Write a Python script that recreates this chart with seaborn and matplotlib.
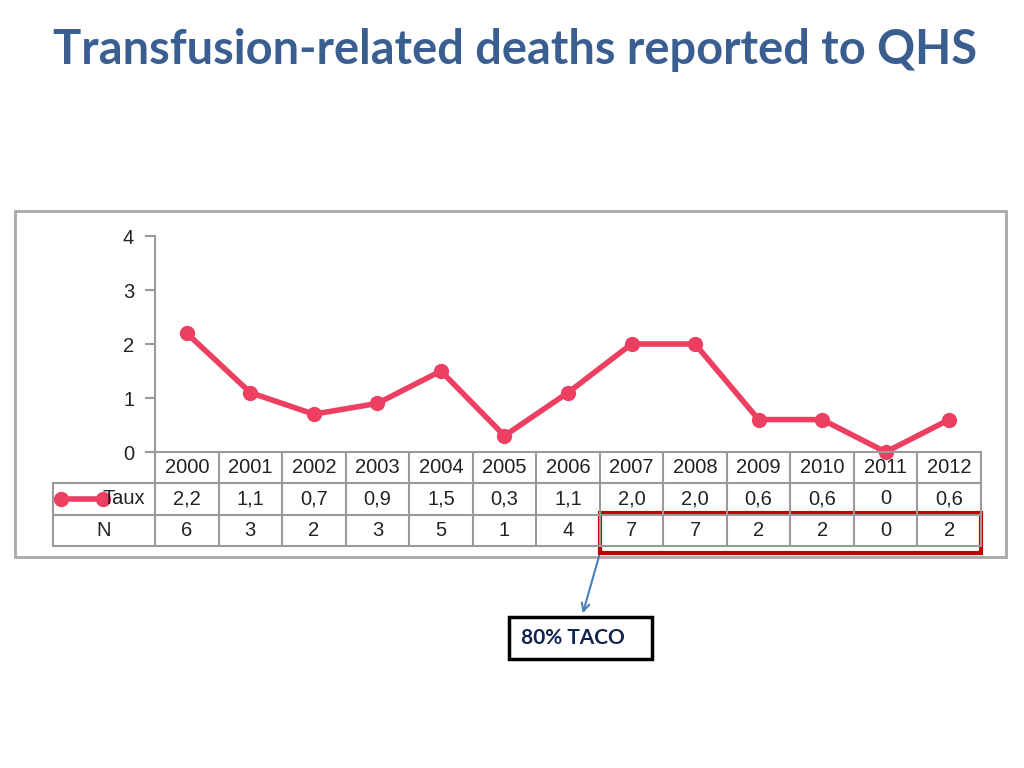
import matplotlib
matplotlib.use("Agg")
import matplotlib.pyplot as plt
import matplotlib.patches as patches
import pandas as pd
import seaborn as sns

# data
years = ['2000', '2001', '2002', '2003', '2004', '2005', '2006',
         '2007', '2008', '2009', '2010', '2011', '2012']
taux = [2.2, 1.1, 0.7, 0.9, 1.5, 0.3, 1.1, 2.0, 2.0, 0.6, 0.6, 0, 0.6]
taux_labels = ['2,2', '1,1', '0,7', '0,9', '1,5', '0,3', '1,1',
               '2,0', '2,0', '0,6', '0,6', '0', '0,6']
n_deaths = [6, 3, 2, 3, 5, 1, 4, 7, 7, 2, 2, 0, 2]
y_ticks = [0, 1, 2, 3, 4]

W, H = 1024, 768
LINE = '#EC3F62'
GRID = '#9A9A9A'
TXT = '#222222'
FS = 14.5

sns.set_style('white')
plt.rcParams['font.family'] = ['Liberation Sans', 'DejaVu Sans']

fig = plt.figure(figsize=(W / 100, H / 100), dpi=100)


def px(x0, y0, x1, y1):
    return [x0 / W, 1 - y1 / H, (x1 - x0) / W, (y1 - y0) / H]


# title
fig.text(515 / W, 1 - 50 / H, 'Transfusion-related deaths reported to QHS',
         ha='center', va='center', fontsize=33.8, fontweight='bold',
         color='#3B5E91', family='Lato')

# outer grey frame
fig.add_artist(patches.Rectangle((15 / W, 1 - 557 / H), 991 / W, 346 / H,
                                 transform=fig.transFigure, fill=False,
                                 edgecolor='#A8A8A8', lw=2))

# line chart
df = pd.DataFrame({'i': range(len(years)), 'taux': taux})
ax = fig.add_axes(px(155, 236, 981, 452))
sns.lineplot(data=df, x='i', y='taux', ax=ax, color=LINE, lw=4,
             marker='o', markersize=11, markeredgewidth=0, clip_on=False)
ax.set_xlim(-0.5, len(years) - 0.5)
ax.set_ylim(0, 4)
ax.set_yticks(y_ticks)
ax.set_yticklabels([str(t) for t in y_ticks], fontsize=FS, color=TXT)
ax.set_xticks([])
ax.set_xlabel('')
ax.set_ylabel('')
for s in ['top', 'right', 'bottom']:
    ax.spines[s].set_visible(False)
ax.spines['left'].set_color(GRID)
ax.spines['left'].set_linewidth(1.5)
ax.tick_params(axis='y', left=True, length=7, width=1.5, color=GRID, pad=8)
ax.patch.set_alpha(0)

# data table under the chart
col_w = (981 - 155) / len(years)
left = -0.5 - (155 - 53) / col_w
tb = fig.add_axes(px(53, 452, 981, 546))
tb.set_xlim(left, len(years) - 0.5)
tb.set_ylim(3, 0)
tb.axis('off')
kw = dict(color=GRID, lw=1.5, clip_on=False)
tb.plot([-0.5, len(years) - 0.5], [0, 0], **kw)
for r in [1, 2, 3]:
    tb.plot([left, len(years) - 0.5], [r, r], **kw)
for i in range(len(years) + 1):
    tb.plot([i - 0.5, i - 0.5], [0, 3], **kw)
tb.plot([left, left], [1, 3], **kw)
for i, y in enumerate(years):
    tb.text(i, 0.5, y, ha='center', va='center', fontsize=FS, color=TXT)
    tb.text(i, 1.5, taux_labels[i], ha='center', va='center', fontsize=FS, color=TXT)
    tb.text(i, 2.5, str(n_deaths[i]), ha='center', va='center', fontsize=FS, color=TXT)
tb.text(left + 0.78, 1.5, 'Taux', ha='left', va='center', fontsize=FS, color=TXT)
tb.text((left - 0.5) / 2, 2.5, 'N', ha='center', va='center', fontsize=FS, color=TXT)
tb.plot([left + 0.12, left + 0.78], [1.5, 1.5], color=LINE, lw=4,
        marker='o', markersize=11, markeredgewidth=0, clip_on=False)

# red highlight around 2007-2012
tb.add_patch(patches.Rectangle((6.5, 1.95), 6.0, 1.28, fill=False,
                               edgecolor='#C00000', lw=3, clip_on=False))

# annotation box and arrow
fig.add_artist(patches.Rectangle((509 / W, 1 - 659 / H), 143 / W, 42 / H,
                                 transform=fig.transFigure, fill=False,
                                 edgecolor='black', lw=2.5))
fig.text(573 / W, 1 - 638 / H, '80% TACO', ha='center', va='center',
         fontsize=15, fontweight='bold', color='#0E2352', family='Lato')
fig.add_artist(patches.FancyArrowPatch((600 / W, 1 - 553 / H), (582 / W, 1 - 616 / H),
                                       transform=fig.transFigure,
                                       arrowstyle='->', mutation_scale=14,
                                       color='#4A7EBB', lw=1.5))

fig.savefig('out.png', dpi=100)
